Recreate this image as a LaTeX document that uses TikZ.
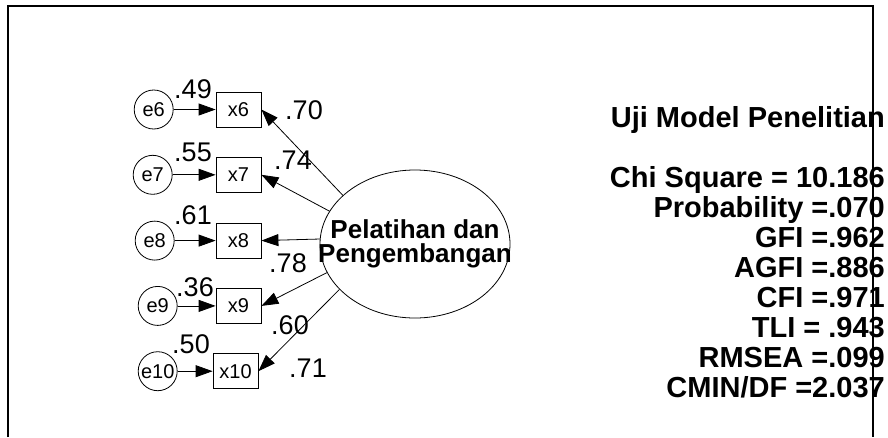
\documentclass[tikz,border=0pt]{standalone}
\usepackage{fontspec}
\setmainfont{Liberation Sans}
\usetikzlibrary{positioning}
\usetikzlibrary{shapes.geometric, arrows.meta, positioning}
\tikzstyle{arrow} = [line width=0.8pt, -{Triangle[length=17pt, width=12pt]}]

\begin{document}
\begin{tikzpicture}[x=1pt, y=-1pt,
    obs/.style={draw, line width=0.8pt, minimum width=45pt, minimum height=35pt, inner sep=1pt, font=\fontsize{20}{24}\selectfont},
    err/.style={draw, circle, line width=0.8pt, minimum size=39pt, inner sep=0pt, font=\fontsize{20}{24}\selectfont},
    latent/.style={draw, ellipse, line width=0.8pt, minimum width=190pt, minimum height=148pt, inner sep=0pt},
    latentname/.style={align=center, inner sep=0pt, font=\bfseries\fontsize{26}{24}\selectfont},
    coef/.style={inner sep=0pt, font=\fontsize{27}{30}\selectfont},
    fitbox/.style={align=right, inner sep=0pt, font=\bfseries\fontsize{29}{30}\selectfont}]
    \useasboundingbox (0,0) rectangle (888,437);

    % Nodes
    \node[latent] (F) at (415,244) {};
    \node[latentname] (Fname) at (F) {Pelatihan dan\\Pengembangan};

    \node[obs] (x6) at (238.5,109.5) {x6};
    \node[obs, below=29.5pt of x6] (x7) {x7};
    \node[obs, below=30pt of x7] (x8) {x8};
    \node[obs, below=29.5pt of x8] (x9) {x9};
    \node[obs, below=29.5pt of x9, xshift=-3pt] (x10) {x10};

    \node[err, left=42pt of x6] (e6) {e6};
    \node[err, left=43pt of x7] (e7) {e7};
    \node[err, left=41pt of x8] (e8) {e8};
    \node[err, left=38pt of x9] (e9) {e9};
    \node[err, left=35pt of x10] (e10) {e10};

    % Variances
    \node[coef] (v6) at (193,89.5) {.49};
    \node[coef] (v7) at (193,152.5) {.55};
    \node[coef] (v8) at (193,215) {.61};
    \node[coef] (v9) at (195,287.5) {.36};
    \node[coef] (v10) at (191,344.5) {.50};

    % Loadings
    \node[coef] (l6) at (304,110) {.70};
    \node[coef] (l7) at (293,160) {.74};
    \node[coef] (l8) at (288,263) {.78};
    \node[coef] (l9) at (290,325) {.60};
    \node[coef] (l10) at (308,368.5) {.71};

    % Fit indices
    \node[fitbox, anchor=north east] (fit) at (885,106) {Uji Model Penelitian\\[30pt]
        Chi Square = 10.186\\Probability =.070\\GFI =.962\\AGFI =.886\\
        CFI =.971\\TLI = .943\\RMSEA =.099\\CMIN/DF =2.037};

    % Edges
    \draw[arrow] (e6) -- (x6);
    \draw[arrow] (e7) -- (x7);
    \draw[arrow] (e8) -- (x8);
    \draw[arrow] (e9) -- (x9);
    \draw[arrow] (e10) -- (x10);

    \draw[arrow] (F.146) -- (x6.east);
    \draw[arrow] (F.159) -- (x7.east);
    \draw[arrow] (F.177) -- (x8.east);
    \draw[arrow] (F.198) -- (x9.east);
    \draw[arrow] (F.211) -- (x10.east);

    % Frame
    \draw[line width=2.3pt] (8,437) -- (8,6) -- (873,6) -- (873,437);
\end{tikzpicture}
\end{document}
